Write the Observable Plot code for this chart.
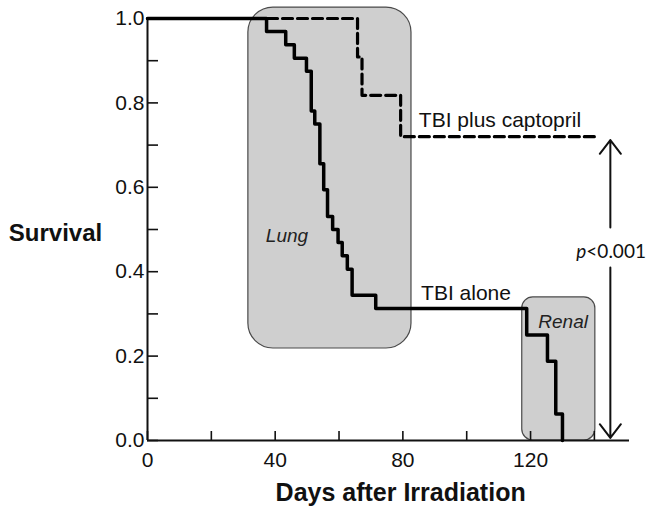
<!DOCTYPE html>
<html><head><meta charset="utf-8">
<script src="https://cdn.jsdelivr.net/npm/d3@7"></script>
<script src="https://cdn.jsdelivr.net/npm/@observablehq/plot@0.6"></script>
<style>body{margin:0;background:#fff}</style>
</head><body><div id="chart"></div>
<script>
// Kaplan–Meier style survival steps
const aloneDays = [0, 37.3, 43.3, 46.0, 49.8, 51.3, 52.4, 54.0, 55.2, 56.4, 58.0, 59.7, 61.0, 62.6, 64.1, 71.5, 118.8, 125.3, 127.9, 130.0];
const aloneSurv = [1, 0.969, 0.938, 0.906, 0.875, 0.781, 0.75, 0.656, 0.594, 0.531, 0.5, 0.469, 0.438, 0.406, 0.344, 0.313, 0.25, 0.188, 0.063, 0];
const captoDays = [0, 65.8, 67.2, 79.3, 140.4];
const captoSurv = [1, 0.909, 0.818, 0.72, 0.72];

const xTicks = [0, 20, 40, 60, 80, 100, 120, 140];
const xTickLabels = [0, 40, 80, 120];
const yTicks = [0, 0.1, 0.2, 0.3, 0.4, 0.5, 0.6, 0.7, 0.8, 0.9, 1.0];
const yTickLabels = [0, 0.2, 0.4, 0.6, 0.8, 1.0];

// shaded phase regions (days, survival)
const regionNames = ["Lung", "Renal"];
const regionX1 = [31.6, 117.4];
const regionX2 = [82.7, 140.3];
const regionY1 = [0.218, 0];
const regionY2 = [1.026, 0.339];

const alone = aloneDays.map((d, i) => ({day: d, s: aloneSurv[i]}));
const capto = captoDays.map((d, i) => ({day: d, s: captoSurv[i]}));

const X_MAX = 151;
const font = "'Liberation Sans', Arial, sans-serif";
const ink = "#111";

const chart = Plot.plot({
  width: 652,
  height: 522,
  marginLeft: 147,
  marginRight: 23,
  marginTop: 18,
  marginBottom: 82,
  x: {domain: [0, X_MAX], axis: null},
  y: {domain: [0, 1], axis: null},
  style: {fontFamily: font, background: "white", color: ink},
  marks: [
    // rounded gray boxes
    Plot.rect([0], {x1: regionX1[0], x2: regionX2[0], y1: regionY1[0], y2: regionY2[0], fill: "#cfcfcf", stroke: "#4a4a4a", strokeWidth: 1.2, rx: 25}),
    Plot.rect([0], {x1: regionX1[1], x2: regionX2[1], y1: regionY1[1], y2: regionY2[1], fill: "#cfcfcf", stroke: "#4a4a4a", strokeWidth: 1.2, rx: 11}),
    Plot.text([regionNames[0]], {x: 43.7, y: 0.486, text: d => d, fontStyle: "italic", fontSize: 19, fill: "#222"}),
    Plot.text([regionNames[1]], {x: 130.2, y: 0.28, text: d => d, fontStyle: "italic", fontSize: 19, fill: "#222"}),
    // axes lines
    Plot.ruleX([0], {y1: 0, y2: 1, stroke: ink, strokeWidth: 2}),
    Plot.ruleY([0], {x1: 0, x2: X_MAX, stroke: ink, strokeWidth: 2}),
    // inward ticks
    Plot.ruleY(yTicks, {x1: 0, x2: 11 / ((652 - 170) / X_MAX), stroke: ink, strokeWidth: 1.6}),
    Plot.ruleX(xTicks, {y1: 0, y2: 9 / 422, stroke: ink, strokeWidth: 1.6}),
    Plot.text(yTickLabels, {x: 0, y: d => d, text: d => d.toFixed(1), textAnchor: "end", dx: -3, fontSize: 21, fill: ink}),
    Plot.text(xTickLabels, {x: d => d, y: 0, text: d => String(d), dy: 20, fontSize: 21, fill: ink}),
    // axis titles
    Plot.text(["Survival"], {frameAnchor: "left", y: 0.49, dx: -92, textAnchor: "middle", text: d => d, fontWeight: "bold", fontSize: 24, fill: ink}),
    Plot.text(["Days after Irradiation"], {x: 79.3, frameAnchor: "bottom", dy: 60, textAnchor: "middle", text: d => d, fontWeight: "bold", fontSize: 25, fill: ink}),
    // survival curves
    Plot.line(alone, {x: "day", y: "s", curve: "step-after", stroke: "#000", strokeWidth: 3.5}),
    Plot.line(capto, {x: "day", y: "s", curve: "step-after", stroke: "#000", strokeWidth: 3.2, strokeDasharray: "10,5"}),
    Plot.text(["TBI plus captopril"], {x: 85, y: 0.758, text: d => d, textAnchor: "start", fontSize: 21, fill: ink}),
    Plot.text(["TBI alone"], {x: 85.7, y: 0.348, text: d => d, textAnchor: "start", fontSize: 21, fill: ink}),
    // p-value double arrow with a gap for the label
    Plot.arrow([{y1: 0.505, y2: 0.712}, {y1: 0.41, y2: 0.006}], {x1: 145, x2: 145, y1: "y1", y2: "y2", stroke: ink, strokeWidth: 2, headLength: 13, headAngle: 75}),
    Plot.text(["p"], {x: 145, y: 0.447, text: d => d, textAnchor: "end", dx: -24, fontStyle: "italic", fontSize: 19, fontFamily: "Lato, 'Open Sans', sans-serif", fill: ink}),
    Plot.text(["<0.001"], {x: 145, y: 0.447, text: d => d, textAnchor: "start", dx: -24, fontSize: 19, fontFamily: "Lato, 'Open Sans', sans-serif", fill: ink})
  ]
});
document.getElementById("chart").appendChild(chart);
</script>
</body></html>
